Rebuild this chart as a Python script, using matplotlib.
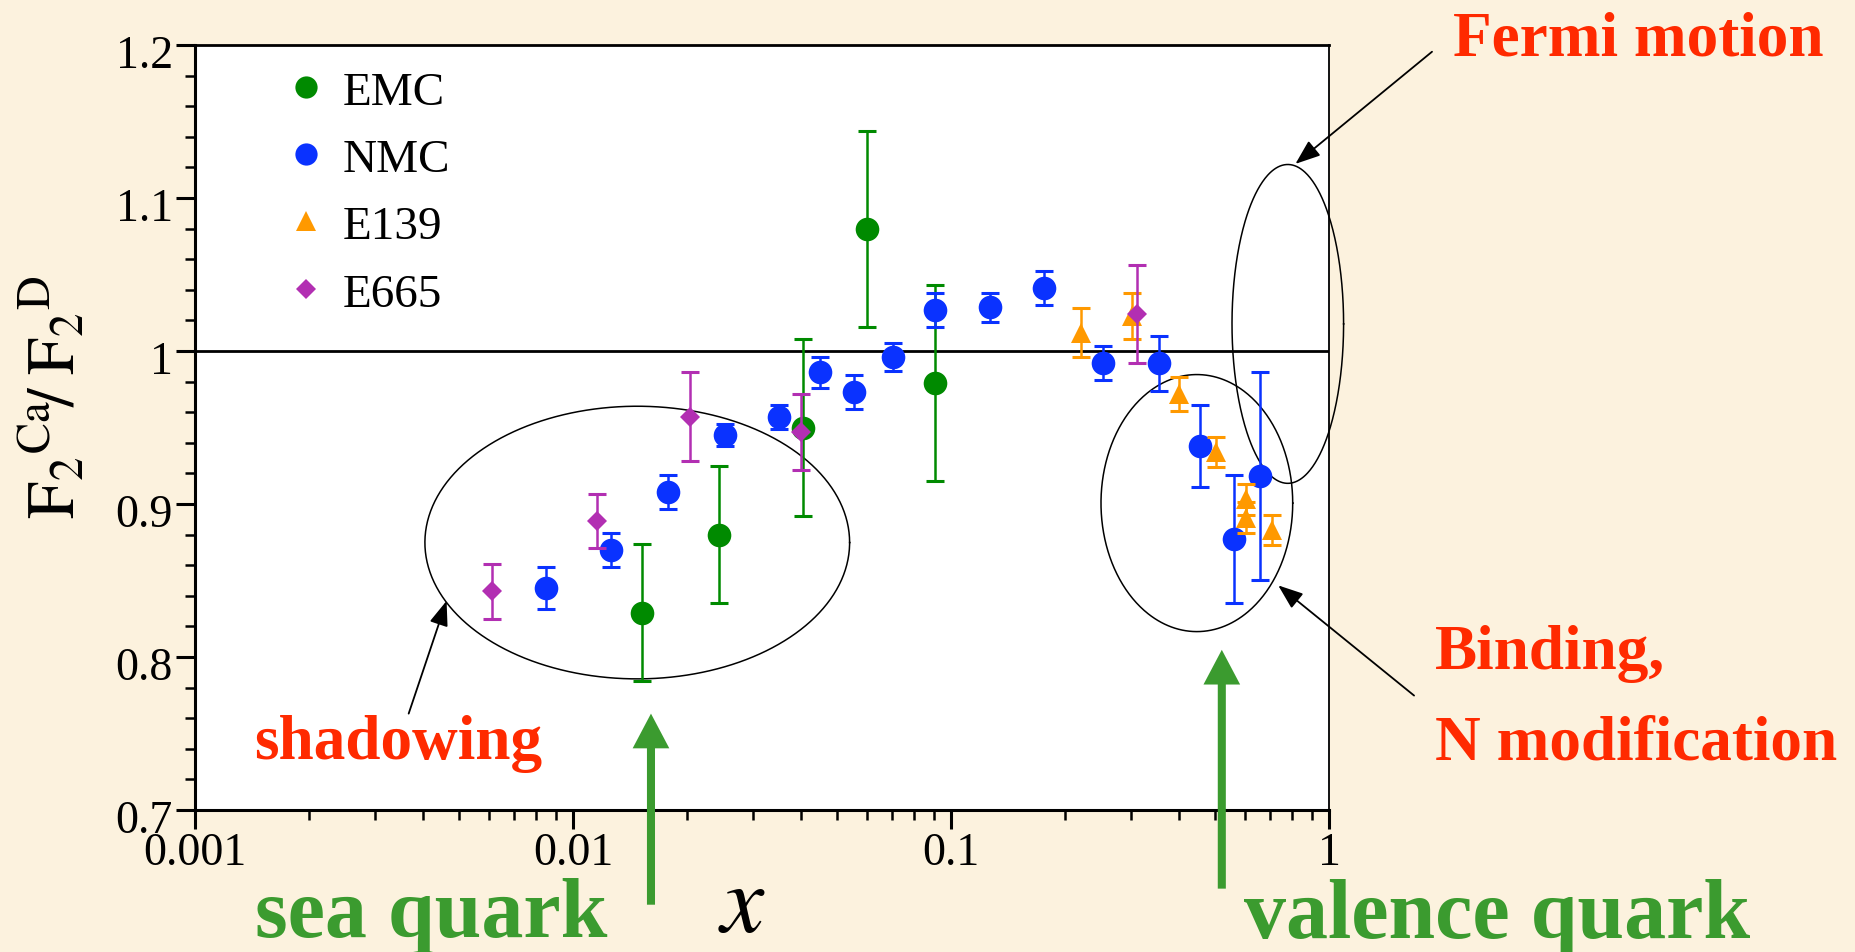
import numpy as np
import matplotlib
matplotlib.use("Agg")
import matplotlib.pyplot as plt
from matplotlib.ticker import FixedLocator, FixedFormatter, LogLocator, MultipleLocator, NullFormatter
from matplotlib.transforms import ScaledTranslation

# ---------------- data ----------------
emc_x = [0.0152, 0.0243, 0.0406, 0.0601, 0.0907]
emc_y = [0.829, 0.880, 0.950, 1.080, 0.979]
emc_e = [0.045, 0.045, 0.058, 0.064, 0.064]

nmc_x = [0.0085, 0.0126, 0.0178, 0.0253, 0.0350, 0.0450, 0.0553, 0.0703,
         0.0907, 0.1265, 0.1758, 0.252, 0.356, 0.455, 0.560, 0.655]
nmc_y = [0.845, 0.870, 0.908, 0.945, 0.957, 0.986, 0.973, 0.996,
         1.027, 1.0285, 1.041, 0.992, 0.992, 0.938, 0.877, 0.918]
nmc_e = [0.0135, 0.011, 0.011, 0.007, 0.008, 0.010, 0.011, 0.009,
         0.011, 0.0095, 0.011, 0.011, 0.018, 0.027, 0.042, 0.068]

e139_x = [0.221, 0.302, 0.402, 0.502, 0.602, 0.602, 0.705]
e139_y = [1.012, 1.023, 0.972, 0.934, 0.903, 0.891, 0.883]
e139_e = [0.016, 0.015, 0.011, 0.010, 0.010, 0.010, 0.010]

e665_x = [0.0061, 0.0116, 0.0204, 0.0400, 0.310]
e665_y = [0.843, 0.889, 0.957, 0.947, 1.024]
e665_e = [0.018, 0.0175, 0.029, 0.025, 0.032]

series_names = ["EMC", "NMC", "E139", "E665"]
x_ticks = [0.001, 0.01, 0.1, 1]
x_tick_labels = ["0.001", "0.01", "0.1", "1"]
y_ticks = [0.7, 0.8, 0.9, 1.0, 1.1, 1.2]
y_tick_labels = ["0.7", "0.8", "0.9", "1", "1.1", "1.2"]

# ---------------- style ----------------
plt.rcParams["font.family"] = ["Liberation Serif", "DejaVu Serif"]
plt.rcParams["mathtext.fontset"] = "stix"

BG = "#fcf2de"
C_EMC = "#008a00"
C_NMC = "#0a32ff"
C_E139 = "#ff9900"
C_E665 = "#b22fb2"
RED = "#ff2a00"
GREEN = "#3b9b2f"

W, H = 1856, 952
fig = plt.figure(figsize=(W / 100, H / 100), dpi=100, facecolor=BG)
ax = fig.add_axes([195 / W, 1 - 810 / H, 1134 / W, 765 / H])
ax.set_facecolor("white")
ax.set_xscale("log")
ax.set_xlim(0.001, 1)
ax.set_ylim(0.7, 1.2)

for side in ["left", "bottom"]:
    ax.spines[side].set_linewidth(2.2)
ax.spines["top"].set_linewidth(2.0)
ax.spines["right"].set_linewidth(1.3)

ax.xaxis.set_major_locator(FixedLocator(x_ticks))
ax.xaxis.set_major_formatter(FixedFormatter(x_tick_labels))
ax.xaxis.set_minor_locator(LogLocator(base=10, subs=np.arange(2, 10)))
ax.xaxis.set_minor_formatter(NullFormatter())
ax.yaxis.set_major_locator(FixedLocator(y_ticks))
ax.yaxis.set_major_formatter(FixedFormatter(y_tick_labels))
ax.yaxis.set_minor_locator(MultipleLocator(0.02))

ax.tick_params(which="major", direction="out", length=14, width=2.2,
               labelsize=33, pad=2, top=False, right=False)
ax.tick_params(which="minor", direction="out", length=7, width=1.8,
               top=False, right=False)

# reference line at 1
ax.axhline(1.0, color="black", lw=2.0, zorder=2)

# ---------------- data series ----------------
eb_kw = dict(fmt="none", elinewidth=1.8, capsize=6.3, capthick=2.2)
series = [
    (emc_x, emc_y, emc_e, C_EMC, "o", 17),
    (nmc_x, nmc_y, nmc_e, C_NMC, "o", 17),
    (e139_x, e139_y, e139_e, C_E139, "^", 15),
    (e665_x, e665_y, e665_e, C_E665, "D", 10),
]
z = 3
for sx, sy, se, col, mk, ms in series:
    ax.errorbar(sx, sy, yerr=se, ecolor=col, zorder=z, **eb_kw)
    ax.plot(sx, sy, linestyle="none", marker=mk, color=col, ms=ms, mew=0,
            zorder=z + 0.5)
    z += 1

# ---------------- legend (manual) ----------------
leg_markers = [("o", C_EMC, 16), ("o", C_NMC, 16), ("^", C_E139, 14.5), ("D", C_E665, 10)]
leg_rows = [0.9455, 0.8575, 0.7700, 0.6815]
for (mk, col, ms), ly, name in zip(leg_markers, leg_rows, series_names):
    ax.plot([0.0979], [ly], marker=mk, color=col, ms=ms, mew=0,
            transform=ax.transAxes, zorder=8)
    ax.text(0.1305, ly - 0.0092, name, transform=ax.transAxes,
            fontsize=34, ha="left", va="center", zorder=8)

# ---------------- annotation ellipses (in log-x space) ----------------
t = np.linspace(0, 2 * np.pi, 500)
def ellipse(cx_log, a, cy, b, clip=True):
    ax.plot(10 ** (cx_log + a * np.cos(t)), cy + b * np.sin(t),
            color="black", lw=1.1, zorder=2.5, clip_on=clip)

ellipse(-1.830, 0.5618, 0.8748, 0.0891)          # shadowing
ellipse(-0.3496, 0.2536, 0.9006, 0.0840)         # binding
ellipse(-0.109, 0.1476, 1.0177, 0.1042, False)   # Fermi motion

# ---------------- thin black arrows ----------------
thin = dict(arrowstyle="-|>,head_length=0.45,head_width=0.17", lw=1.3,
            color="black", shrinkA=0, shrinkB=0, mutation_scale=34)
ax.annotate("", xy=(0.815, 1.1223), xytext=(1.873, 1.1956),
            arrowprops=thin, annotation_clip=False, zorder=9)
ax.annotate("", xy=(0.734, 0.8468), xytext=(1.679, 0.7748),
            arrowprops=thin, annotation_clip=False, zorder=9)
ax.annotate("", xy=(0.00463, 0.8367), xytext=(0.003675, 0.763),
            arrowprops=thin, annotation_clip=False, zorder=9)

# ---------------- thick green arrows ----------------
thick = dict(arrowstyle="simple,head_length=2.5,head_width=2.64,tail_width=0.58",
             lw=0, color=GREEN, shrinkA=0, shrinkB=0, mutation_scale=10)
ax.annotate("", xy=(0.01608, 0.763), xytext=(0.01608, 0.6381),
            arrowprops=thick, annotation_clip=False, zorder=10)
ax.annotate("", xy=(0.5205, 0.8047), xytext=(0.5205, 0.6486),
            arrowprops=thick, annotation_clip=False, zorder=10)

# ---------------- texts ----------------
fig.text(1453 / W, 1 - 55 / H, "Fermi motion", color=RED, fontsize=45.5,
         fontweight="bold", ha="left", va="baseline")
fig.text(1435 / W, 1 - 669 / H, "Binding,", color=RED, fontsize=45.5,
         fontweight="bold", ha="left", va="baseline")
fig.text(1435 / W, 1 - 760 / H, "N modification", color=RED, fontsize=45.5,
         fontweight="bold", ha="left", va="baseline")
fig.text(254 / W, 1 - 759 / H, "shadowing", color=RED, fontsize=45.5,
         fontweight="bold", ha="left", va="baseline")
fig.text(255 / W, 1 - 937 / H, "sea quark", color=GREEN, fontsize=60.5,
         fontweight="bold", ha="left", va="baseline")
fig.text(1244 / W, 1 - 938 / H, "valence quark", color=GREEN, fontsize=60.5,
         fontweight="bold", ha="left", va="baseline")

# axis labels
fig.text(742 / W, 1 - 932 / H, r"$x$", fontsize=70,
         ha="center", va="baseline")
fig.text(54 / W, 1 - 397 / H, r"$\mathrm{F_2{}^{Ca}\!/\;F_2{}^{D}}$",
         fontsize=48, rotation=90, ha="center", va="center")

# shift y tick labels slightly down as in the reference
off = ScaledTranslation(0, -7 / 100, fig.dpi_scale_trans)
for tk in ax.yaxis.get_major_ticks():
    tk.label1.set_transform(tk.label1.get_transform() + off)

fig.savefig("out.png", dpi=100, facecolor=BG)
